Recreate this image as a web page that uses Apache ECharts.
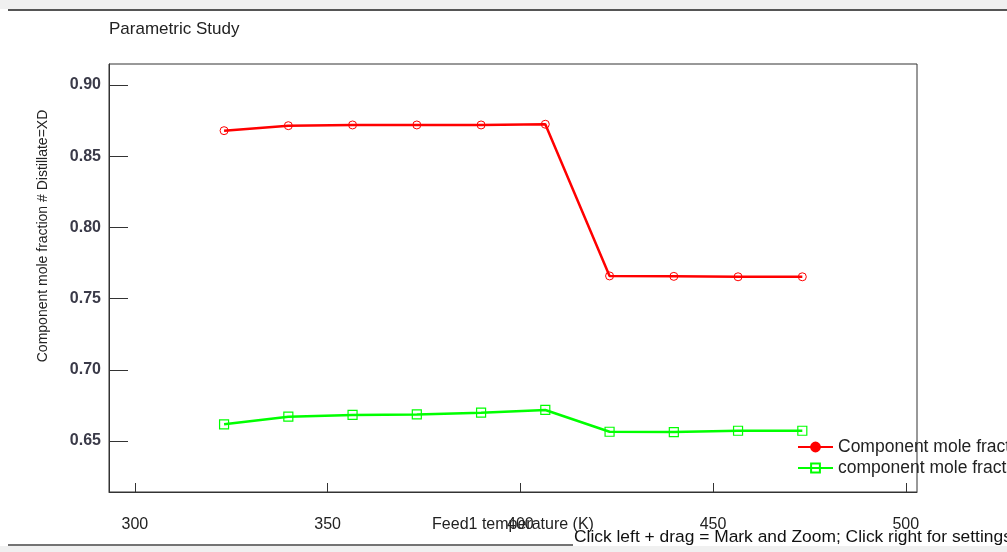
<!DOCTYPE html>
<html>
<head>
<meta charset="utf-8">
<script src="https://cdn.jsdelivr.net/npm/echarts@6/dist/echarts.min.js"></script>
<style>
html,body{margin:0;padding:0;background:#fff;}
#chart{width:1007px;height:552px;}
</style>
</head>
<body>
<div id="chart"></div>
<script>
// ---- data ----
const feedTemperature = [323.15, 339.82, 356.48, 373.15, 389.82, 406.48, 423.15, 439.82, 456.48, 473.15];
const seriesNames = ["Component mole fraction", "component mole fraction"];
const redValues = [0.8679, 0.8714, 0.8719, 0.8719, 0.8719, 0.8724, 0.7659, 0.7656, 0.7653, 0.7653];
const greenValues = [0.6617, 0.6671, 0.6683, 0.6687, 0.6699, 0.6718, 0.6565, 0.6563, 0.6572, 0.6572];
const xTicks = [300, 350, 400, 450, 500];
const yTicks = [0.65, 0.70, 0.75, 0.80, 0.85, 0.90];
const titleText = "Parametric Study";
const xAxisName = "Feed1 temperature (K)";
const yAxisName = "Component mole fraction # Distillate=XD";
const statusText = "Click left + drag = Mark and Zoom; Click right for settings";

const pairs = (xs, ys) => xs.map((x, i) => [x, ys[i]]);
const FONT = "'Liberation Sans', Arial, sans-serif";
const TXT = '#222';

const chart = echarts.init(document.getElementById('chart'), null, {renderer: 'canvas'});
chart.setOption({
  animation: false,
  backgroundColor: '#ffffff',
  grid: {
    left: 109, top: 64, width: 808, height: 428,
    show: true, borderColor: '#333', borderWidth: 1, backgroundColor: 'transparent',
    containLabel: false
  },
  xAxis: {
    type: 'value',
    min: 293.3, max: 502.9,
    name: xAxisName,
    nameLocation: 'middle',
    nameGap: 25,
    nameMoveOverlap: false,
    nameTextStyle: {fontFamily: FONT, fontSize: 16, color: TXT, verticalAlign: 'top'},
    axisLine: {show: true, onZero: false, lineStyle: {color: '#333', width: 1}},
    axisTick: {show: true, inside: true, length: 9, lineStyle: {color: '#333'}, customValues: xTicks},
    axisLabel: {show: true, margin: 25, fontFamily: FONT, fontSize: 16, color: TXT,
      customValues: xTicks, formatter: v => String(Math.round(v))},
    splitLine: {show: false}
  },
  yAxis: {
    type: 'value',
    min: 0.6142, max: 0.9147,
    axisLine: {show: true, onZero: false, lineStyle: {color: '#333', width: 1}},
    axisTick: {show: true, inside: true, length: 19, lineStyle: {color: '#333'}, customValues: yTicks},
    axisLabel: {show: true, margin: 8, fontFamily: FONT, fontSize: 16, fontWeight: 'bold', color: '#3a3a48',
      customValues: yTicks, formatter: v => v.toFixed(2)},
    splitLine: {show: false}
  },
  legend: {
    orient: 'vertical',
    left: 797, top: 438,
    padding: 0,
    itemWidth: 35, itemHeight: 11, itemGap: 3,
    textStyle: {fontFamily: FONT, fontSize: 17.5, color: TXT},
    data: [
      {name: seriesNames[0], itemStyle: {color: '#ff0000'}},
      {name: seriesNames[1]}
    ]
  },
  series: [
    {
      name: seriesNames[0],
      type: 'line',
      data: pairs(feedTemperature, redValues),
      symbol: 'circle',
      symbolSize: 8,
      itemStyle: {color: 'rgba(255,255,255,0)', borderColor: '#ff0000', borderWidth: 1},
      lineStyle: {color: '#ff0000', width: 2.5},
      z: 3
    },
    {
      name: seriesNames[1],
      type: 'line',
      data: pairs(feedTemperature, greenValues),
      symbol: 'rect',
      symbolSize: 9,
      itemStyle: {color: 'rgba(255,255,255,0)', borderColor: '#00ff00', borderWidth: 1.2},
      lineStyle: {color: '#00ff00', width: 2.5},
      z: 2
    }
  ],
  graphic: [
    {type: 'rect', left: 0, top: 0, shape: {width: 1007, height: 9}, style: {fill: '#f0f0f0'}, silent: true},
    {type: 'line', shape: {x1: 8, y1: 10, x2: 1007, y2: 10}, style: {stroke: '#555', lineWidth: 2}, silent: true},
    {type: 'rect', left: 0, top: 546, shape: {width: 1007, height: 6}, style: {fill: '#f0f0f0'}, silent: true},
    {type: 'line', shape: {x1: 8, y1: 545, x2: 573, y2: 545}, style: {stroke: '#444', lineWidth: 1.5}, silent: true},
    {type: 'text', x: 109, y: 29, style: {text: titleText, font: '17px ' + FONT, fill: TXT, textAlign: 'left', textVerticalAlign: 'middle'}, silent: true},
    {type: 'text', x: 43, y: 236, rotation: Math.PI / 2,
      style: {text: yAxisName, font: '14px ' + FONT, fill: TXT, textAlign: 'center', textVerticalAlign: 'middle'}, silent: true},
    {type: 'text', x: 574, y: 537, style: {text: statusText, font: '17.4px ' + FONT, fill: '#111', textAlign: 'left', textVerticalAlign: 'middle'}, silent: true}
  ]
});
</script>
</body>
</html>
